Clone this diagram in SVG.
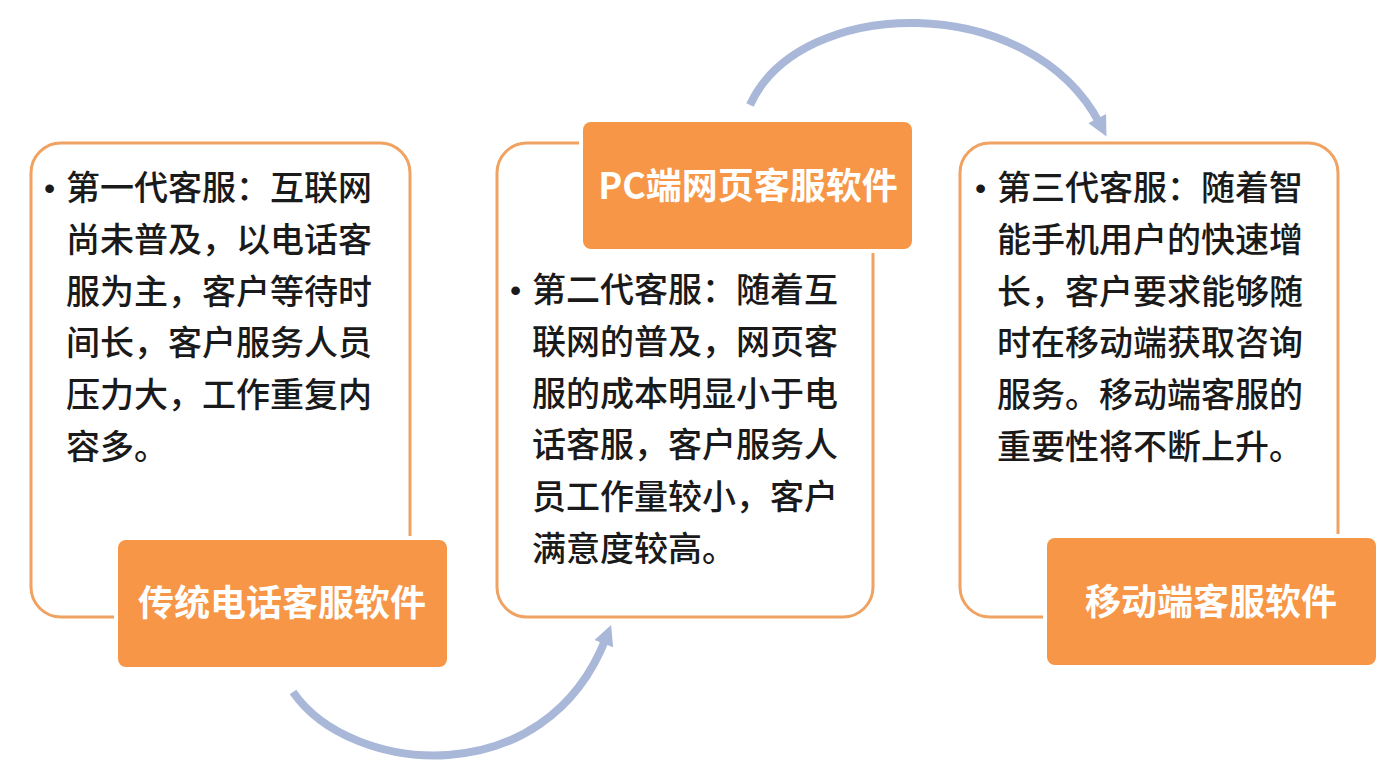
<svg xmlns="http://www.w3.org/2000/svg" width="1399" height="771" viewBox="0 0 1399 771">
<style>
.card{fill:#fff;stroke:#F0A262;stroke-width:3}
.label{fill:#F79646;stroke:#fff;stroke-width:8;paint-order:stroke}
.lt{font-family:"Noto Sans CJK SC","Noto Sans",sans-serif;font-size:36px;font-weight:700;fill:#fff;text-anchor:middle}
.bt{font-family:"Noto Sans CJK SC","Noto Sans",sans-serif;font-size:34px;font-weight:500;fill:#1a1a1a}
.bul{font-family:"Liberation Sans",sans-serif;font-size:32px;fill:#1a1a1a}
.arrow{fill:none;stroke:#A9B8D8;stroke-width:8;marker-end:url(#ah)}
</style>
<defs>
<marker id="ah" viewBox="0 0 10 10" refX="3" refY="5" markerWidth="2.8" markerHeight="2.5" orient="auto" markerUnits="strokeWidth">
<path d="M0,0 L10,5 L0,10 z" fill="#A9B8D8"/>
</marker>
</defs>
<rect width="1399" height="771" fill="#fff"/>
<g id="connectors">
<path class="arrow" d="M293,692 C350,775 545,795 606,638"/>
<path class="arrow" d="M750,105 C800,-5 1030,-10 1100,124"/>
</g>
<g id="node1">
<rect class="card" x="31" y="143" width="379" height="474" rx="30"/>
<text class="bul" x="44" y="199">•</text>
<text class="bt" x="66" y="200">第一代客服：互联网</text>
<text class="bt" x="66" y="252">尚未普及，以电话客</text>
<text class="bt" x="66" y="304">服为主，客户等待时</text>
<text class="bt" x="66" y="355">间长，客户服务人员</text>
<text class="bt" x="66" y="407">压力大，工作重复内</text>
<text class="bt" x="66" y="459">容多。</text>
<rect class="label" x="118" y="540" width="329" height="127" rx="8"/>
<text class="lt" x="282" y="616">传统电话客服软件</text>
</g>
<g id="node2">
<rect class="card" x="497" y="143" width="376" height="474" rx="30"/>
<text class="bul" x="510" y="301">•</text>
<text class="bt" x="532" y="302">第二代客服：随着互</text>
<text class="bt" x="532" y="354">联网的普及，网页客</text>
<text class="bt" x="532" y="406">服的成本明显小于电</text>
<text class="bt" x="532" y="457">话客服，客户服务人</text>
<text class="bt" x="532" y="509">员工作量较小，客户</text>
<text class="bt" x="532" y="561">满意度较高。</text>
<rect class="label" x="583" y="122" width="329" height="127" rx="8"/>
<text class="lt" x="748" y="199">PC端网页客服软件</text>
</g>
<g id="node3">
<rect class="card" x="960" y="143" width="378" height="474" rx="30"/>
<text class="bul" x="975" y="199">•</text>
<text class="bt" x="997" y="200">第三代客服：随着智</text>
<text class="bt" x="997" y="252">能手机用户的快速增</text>
<text class="bt" x="997" y="304">长，客户要求能够随</text>
<text class="bt" x="997" y="355">时在移动端获取咨询</text>
<text class="bt" x="997" y="407">服务。移动端客服的</text>
<text class="bt" x="997" y="459">重要性将不断上升。</text>
<rect class="label" x="1047" y="538" width="329" height="127" rx="8"/>
<text class="lt" x="1211" y="615">移动端客服软件</text>
</g>
</svg>
